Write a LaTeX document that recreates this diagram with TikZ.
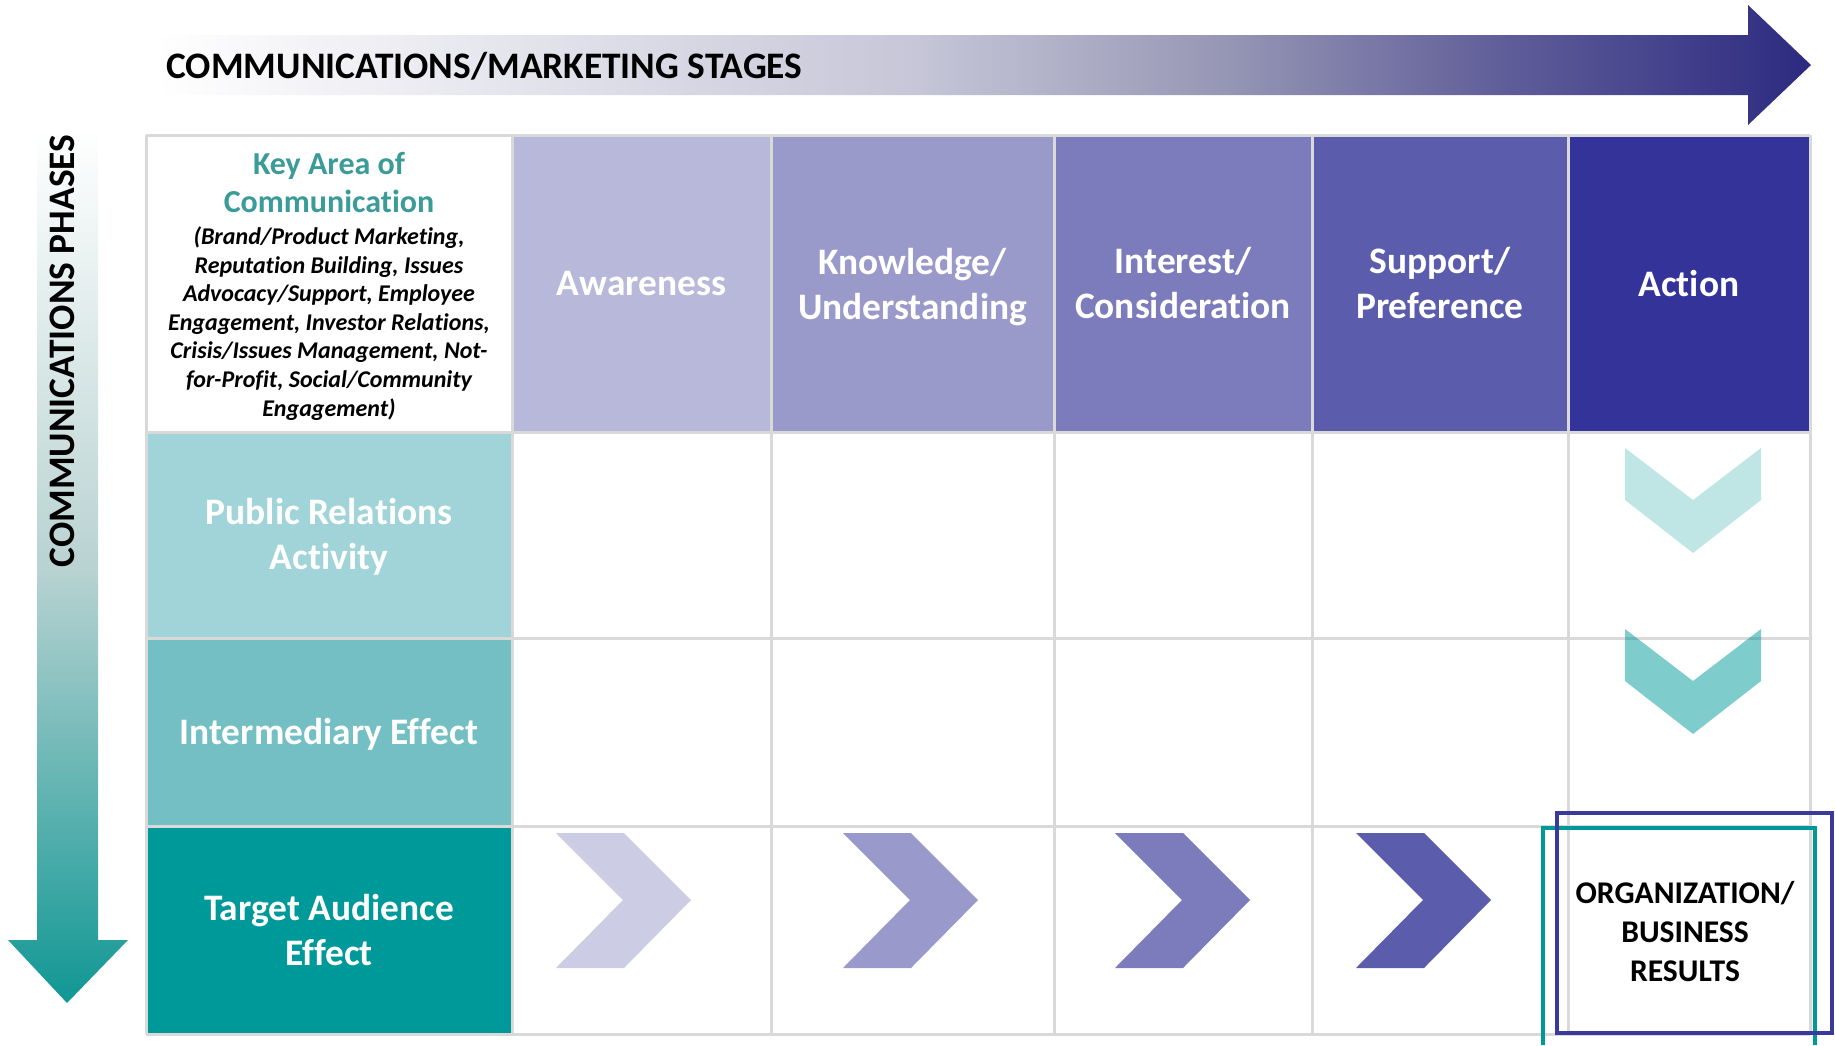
\documentclass[tikz,border=0pt]{standalone}
\usepackage{fontspec}
\setmainfont{Carlito}[Ligatures=NoCommon]
\usetikzlibrary{positioning}

\definecolor{stageA}{HTML}{B8B8DA}
\definecolor{stageB}{HTML}{9999CA}
\definecolor{stageC}{HTML}{7C7BBB}
\definecolor{stageD}{HTML}{5C5CAC}
\definecolor{stageE}{HTML}{333399}
\definecolor{phaseA}{HTML}{A1D4D8}
\definecolor{phaseB}{HTML}{74BFC3}
\definecolor{phaseC}{HTML}{009999}
\definecolor{chevA}{HTML}{CCCCE5}
\definecolor{chevB}{HTML}{9999CC}
\definecolor{keyteal}{HTML}{3A9B98}
\definecolor{gridgray}{HTML}{D9D9D9}
\definecolor{navy}{HTML}{3A3A9C}
\definecolor{fadeA}{HTML}{C6C6D8}
\definecolor{fadeB}{HTML}{9898B6}
\definecolor{fadeC}{HTML}{5E5C98}
\definecolor{fadeD}{HTML}{2C2A80}
\definecolor{phaseM}{HTML}{B9D3D2}
\definecolor{phaseD}{HTML}{109794}

\pgfdeclarehorizontalshading{stagefade}{100bp}{color(0bp)=(white); color(25bp)=(white); color(48bp)=(fadeA); color(57bp)=(fadeB); color(66bp)=(fadeC); color(75bp)=(fadeD); color(100bp)=(fadeD)}
\pgfdeclareverticalshading{phasefade}{100bp}{color(0bp)=(phaseD); color(25bp)=(phaseD); color(50bp)=(phaseM); color(75bp)=(white); color(100bp)=(white)}

\begin{document}
\begin{tikzpicture}[x=0.5pt,y=-0.5pt,
    cellline/.style={draw=gridgray,line width=1.5pt},
    bigtext/.style={inner sep=0pt,align=center,font=\bfseries\fontsize{18.7}{22.5}\selectfont},
    headtext/.style={bigtext,text=white}]
        \useasboundingbox (0,0) rectangle (1836,1045);
        % arrows
        \shade[shading=stagefade] (155,35) -- (1748,35) -- (1748,5) -- (1811,65) -- (1748,125) -- (1748,95) -- (155,95) -- cycle;
        \node[bigtext,anchor=base west] (stages) at (166,78) {COMMUNICATIONS/MARKETING STAGES};
        \shade[shading=phasefade] (37,128) -- (98,128) -- (98,940) -- (128,940) -- (67,1003) -- (8,940) -- (37,940) -- cycle;
        \node[bigtext,rotate=90] (phases) at (62,351) {COMMUNICATIONS PHASES};
        % cells
        \fill[white] (146,135) rectangle (512,432);
        \foreach \xa/\xb/\c in {512/771/stageA,771/1054/stageB,1054/1312/stageC,1312/1568/stageD,1568/1810/stageE}
        \fill[\c] (\xa,135) rectangle (\xb,432);
        \foreach \ya/\yb/\c in {432/638/phaseA,638/826/phaseB,826/1034/phaseC}
        \fill[\c] (146,\ya) rectangle (512,\yb);
        \foreach \y in {135,432,638,826,1034}
        \draw[cellline] (146,\y) -- (1810,\y);
        \foreach \x in {146,512,771,1054,1312,1568,1810}
        \draw[cellline] (\x,135) -- (\x,1034);
        % header row
        \node[inner sep=0pt,align=center,anchor=north,text=keyteal,font=\bfseries\fontsize{16}{19}\selectfont] (keytitle) at (329,152) {Key Area of\\Communication};
        \node[inner sep=0pt,align=center,below=6.5pt of keytitle,font=\bfseries\itshape\fontsize{12}{14.3}\selectfont] (keylist) {(Brand/Product Marketing,\\Reputation Building, Issues\\Advocacy/Support, Employee\\Engagement, Investor Relations,\\Crisis/Issues Management, Not-\\for-Profit, Social/Community\\Engagement)};
        \node[headtext] (awareness) at (641.5,283.5) {Awareness};
        \node[headtext] (knowledge) at (912.5,287) {Knowledge/\\Understanding};
        \node[headtext] (interest) at (1183,283.5) {Interest/\\Consideration};
        \node[headtext] (support) at (1440,283.5) {Support/\\Preference};
        \node[headtext] (action) at (1689,283.5) {Action};
        % row headers
        \node[headtext] (pr) at (329,537) {Public Relations\\Activity};
        \node[headtext] (intermediary) at (329,734) {Intermediary Effect};
        \node[headtext] (target) at (329,930) {Target Audience\\Effect};
        % chevrons
        \foreach \l/\c in {556/chevA,843/chevB,1115/stageC,1356/stageD}
        \fill[\c] (\l,833) -- ++(68,0) -- ++(67,67) -- ++(-67,68) -- ++(-68,0) -- ++(67,-68) -- cycle;
        \foreach \t/\o in {448/0.25,629/0.5}
        \fill[phaseC,fill opacity=\o] (1625,\t) -- ++(68,52) -- ++(68,-52) -- ++(0,52) -- ++(-68,53) -- ++(-68,-53) -- cycle;
        % results
        \draw[phaseC,line width=2.2pt] (1543,1045) |- (1815,828) -- (1815,1045);
        \draw[navy,line width=2pt] (1557,813) rectangle (1832,1033);
        \node[inner sep=0pt,align=center,font=\bfseries\fontsize{15.8}{19.5}\selectfont] (results) at (1685,932) {ORGANIZATION/\\BUSINESS\\RESULTS};
        \end{tikzpicture}
\end{document}
